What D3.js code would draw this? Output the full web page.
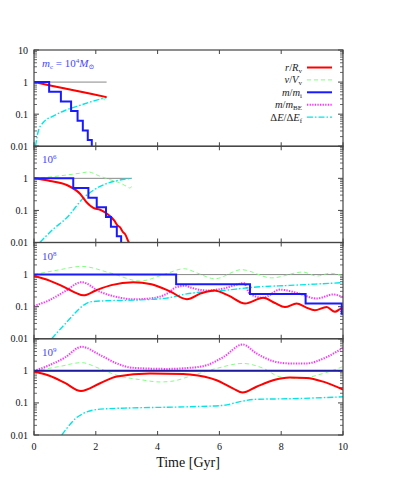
<!DOCTYPE html>
<html>
<head>
<meta charset="utf-8">
<script src="https://cdn.jsdelivr.net/npm/d3@7"></script>
<style>
  body { margin: 0; background: #fff; }
  text { font-family: "Liberation Serif", "DejaVu Serif", serif; }
</style>
</head>
<body>
<div id="chart"></div>
<script>
// data **********************************************************************
// each series is [time in Gyr, value]
var panelNames = ["10^4", "10^6", "10^8", "10^9"];
var xTicks = [0, 2, 4, 6, 8, 10];
var yTicks = [0.01, 0.1, 1, 10];
var yTickLabels = ["0.01", "0.1", "1", "10"];

// panel 1 : m_c = 10^4
var ref4 = [[0, 1], [2.35, 1]];
var r4 = [[0, 1], [0.6, 0.76], [1.2, 0.58], [1.8, 0.44], [2.35, 0.34]];
var v4 = [[0, 1], [0.6, 0.77], [1.2, 0.59], [1.8, 0.44], [2.1, 0.37], [2.35, 0.25]];
var m4 = [[0, 1], [0.49, 0.5], [0.87, 0.25], [1.2, 0.125], [1.41, 0.0625], [1.58, 0.031], [1.74, 0.0156], [1.87, 0.0078]];
var e4 = [[0.05, 0.01], [0.14, 0.03], [0.3, 0.055], [0.6, 0.085], [1.0, 0.13], [1.5, 0.19], [2.0, 0.27], [2.35, 0.33]];

// panel 2 : 10^6
var ref6 = [[0, 1], [3.16, 1]];
var r6 = [[0, 1], [0.52, 0.83], [1.06, 0.62], [1.49, 0.33], [1.7, 0.18], [1.92, 0.12], [2.14, 0.105], [2.35, 0.08],
          [2.6, 0.048], [2.7, 0.034], [2.78, 0.03], [2.88, 0.021], [2.95, 0.018], [3.05, 0.011], [3.1, 0.009]];
var v6 = [[0, 1], [0.5, 1.1], [1.0, 1.25], [1.5, 1.45], [1.76, 1.58], [2.1, 1.2], [2.46, 0.91], [2.78, 0.72],
          [3.0, 0.56], [3.1, 0.5], [3.16, 0.55]];
var m6 = [[0, 1], [1.27, 0.5], [1.76, 0.25], [2.03, 0.125], [2.33, 0.0625], [2.49, 0.031], [2.68, 0.0156], [2.82, 0.0078]];
var e6 = [[0.19, 0.01], [0.6, 0.025], [1.06, 0.059], [1.6, 0.245], [2.14, 0.56], [2.68, 0.85], [3.16, 1.0]];

// panel 3 : 10^8
var ref8 = [[0, 1], [10, 1]];
var r8 = [[0, 0.9], [0.5, 0.65], [1.0, 0.4], [1.35, 0.27], [1.6, 0.225], [2.0, 0.32], [2.5, 0.47], [3.21, 0.58],
          [3.8, 0.5], [4.4, 0.3], [4.95, 0.17], [5.4, 0.26], [5.83, 0.32], [6.3, 0.22], [6.83, 0.125], [7.42, 0.19],
          [7.8, 0.13], [8.12, 0.097], [8.5, 0.125], [8.8, 0.095], [9.09, 0.077], [9.47, 0.097], [9.74, 0.069],
          [9.96, 0.088], [10, 0.085]];
var v8 = [[0, 1], [0.8, 1.4], [1.54, 1.8], [2.5, 1.1], [3.43, 0.63], [4.2, 1.0], [4.86, 1.52], [5.3, 1.1],
          [5.85, 0.74], [6.72, 1.42], [7.69, 0.79], [8.7, 1.2], [9.15, 0.9], [9.58, 1.1], [10, 0.9]];
var m8 = [[0, 1], [4.6, 0.5], [6.99, 0.25], [8.79, 0.125], [9.96, 0.06], [10, 0.06]];
var b8 = [[0, 0.105], [0.5, 0.16], [1.0, 0.3], [1.54, 0.58], [2.14, 0.29], [2.68, 0.2], [3.21, 0.17], [3.75, 0.18],
          [4.29, 0.25], [4.62, 0.41], [4.89, 0.45], [5.05, 0.4], [5.59, 0.32], [6.13, 0.37], [6.67, 0.52],
          [6.78, 0.55], [6.99, 0.25], [7.42, 0.19], [7.96, 0.34], [8.5, 0.27], [9.15, 0.18], [9.69, 0.24], [10, 0.2]];
var e8 = [[0.57, 0.01], [1.06, 0.033], [1.6, 0.11], [1.81, 0.14], [2.14, 0.15], [3.21, 0.16], [4.29, 0.185],
          [4.94, 0.25], [6.13, 0.32], [7.2, 0.41], [8.28, 0.46], [10, 0.56]];

// panel 4 : 10^9
var ref9 = [[0, 1], [10, 1]];
var r9 = [[0, 0.95], [0.5, 0.7], [1.0, 0.42], [1.52, 0.235], [2.14, 0.41], [2.68, 0.67], [3.75, 0.83], [4.83, 0.8],
          [5.05, 0.77], [5.91, 0.51], [6.45, 0.28], [6.75, 0.21], [7.2, 0.32], [7.74, 0.51], [8.28, 0.62],
          [8.82, 0.6], [9.36, 0.46], [10, 0.26]];
var v9 = [[0, 1], [0.8, 1.35], [1.54, 1.8], [2.1, 1.2], [2.68, 0.73], [3.5, 0.52], [4.08, 0.45], [4.5, 0.48],
          [5.05, 0.68], [5.91, 1.19], [6.75, 1.7], [7.42, 1.2], [7.96, 0.65], [8.6, 0.58], [9.36, 0.83], [10, 1.35]];
var m9 = [[0, 1], [10, 1]];
var b9 = [[0, 1], [0.5, 1.5], [1.0, 2.6], [1.54, 5.6], [2.14, 3.1], [2.68, 1.7], [3.21, 1.24], [4.29, 1.15],
          [5.05, 1.24], [5.59, 1.5], [6.13, 2.7], [6.75, 6.6], [7.2, 3.5], [7.74, 2.0], [8.28, 1.7], [8.82, 1.7],
          [9.36, 2.4], [10, 5.2]];
var e9 = [[0.9, 0.01], [1.06, 0.016], [1.38, 0.035], [1.6, 0.047], [2.14, 0.064], [3.21, 0.07], [5.05, 0.076],
          [6.13, 0.084], [6.67, 0.11], [7.2, 0.13], [8.28, 0.135], [10, 0.155]];

var panels = [
  { ref: ref4, r: r4, v: v4, m: m4, b: null, e: e4 },
  { ref: ref6, r: r6, v: v6, m: m6, b: null, e: e6 },
  { ref: ref8, r: r8, v: v8, m: m8, b: b8, e: e8 },
  { ref: ref9, r: r9, v: v9, m: m9, b: b9, e: e9, mColor: "#1c1c9c" }
];

// layout ******************************************************************
var width = 405, height = 486;
var left = 34, right = 343, top0 = 50, panelH = 96.25;
var frameColor = "#444";

var styles = {
  ref: { color: "#888", w: 1, dash: null },
  v:   { color: "#80ff80", w: 1, dash: "4,3" },
  b:   { color: "#ff33ff", w: 2, dash: "1.3,1.3" },
  e:   { color: "#00e5e5", w: 1.4, dash: "6,2,1.5,2" },
  r:   { color: "#ff0000", w: 2, dash: null },
  m:   { color: "#1a1aff", w: 2, dash: null }
};
var drawOrder = ["ref", "v", "b", "e", "r", "m"];

var svg = d3.select("#chart").append("svg")
  .attr("width", width).attr("height", height);

var x = d3.scaleLinear().domain([0, 10]).range([left, right]);

panels.forEach(function(p, i) {
  var top = top0 + i * panelH;
  var y = d3.scaleLog().domain([0.01, 10]).range([top + panelH, top]);
  var g = svg.append("g");

  svg.append("clipPath").attr("id", "clip" + i)
    .append("rect").attr("x", left).attr("y", top).attr("width", right - left).attr("height", panelH);

  // ticks
  var minor = [];
  for (var d = 0.01; d < 10; d *= 10) {
    for (var k = 2; k <= 9; k++) minor.push(d * k);
  }
  minor.forEach(function(v) {
    g.append("line").attr("x1", left).attr("x2", left + 3).attr("y1", y(v)).attr("y2", y(v))
      .attr("stroke", frameColor).attr("stroke-width", 0.8);
    g.append("line").attr("x1", right).attr("x2", right - 3).attr("y1", y(v)).attr("y2", y(v))
      .attr("stroke", frameColor).attr("stroke-width", 0.8);
  });
  yTicks.forEach(function(v) {
    g.append("line").attr("x1", left).attr("x2", left + 5).attr("y1", y(v)).attr("y2", y(v))
      .attr("stroke", frameColor);
    g.append("line").attr("x1", right).attr("x2", right - 5).attr("y1", y(v)).attr("y2", y(v))
      .attr("stroke", frameColor);
  });
  xTicks.forEach(function(t) {
    g.append("line").attr("x1", x(t)).attr("x2", x(t)).attr("y1", top).attr("y2", top + 4)
      .attr("stroke", frameColor);
    g.append("line").attr("x1", x(t)).attr("x2", x(t)).attr("y1", top + panelH).attr("y2", top + panelH - 4)
      .attr("stroke", frameColor);
  });

  // y tick labels
  yTicks.forEach(function(v, j) {
    if (i > 0 && v === 10) return;
    g.append("text").attr("x", 28).attr("y", y(v) + 3.5)
      .attr("text-anchor", "end").attr("font-size", 10).attr("fill", "#111")
      .text(yTickLabels[j]);
  });

  // curves
  var lines = g.append("g").attr("clip-path", "url(#clip" + i + ")");
  drawOrder.forEach(function(key) {
    var data = p[key];
    if (!data) return;
    var s = styles[key];
    var line = d3.line()
      .x(function(d) { return x(d[0]); })
      .y(function(d) { return y(d[1]); })
      .curve(key === "m" ? d3.curveStepAfter : (key === "ref" ? d3.curveLinear : d3.curveMonotoneX));
    lines.append("path").datum(data)
      .attr("d", line)
      .attr("fill", "none")
      .attr("stroke", (key === "m" && p.mColor) ? p.mColor : s.color)
      .attr("stroke-width", s.w)
      .attr("stroke-dasharray", s.dash);
  });

  // frame
  g.append("rect").attr("x", left).attr("y", top).attr("width", right - left).attr("height", panelH)
    .attr("fill", "none").attr("stroke", frameColor).attr("stroke-width", 1.2);

  // panel label
  var lab = g.append("text").attr("x", 42).attr("y", top + 17).attr("font-size", 11).attr("fill", "#4646ff");
  if (i === 0) {
    lab.append("tspan").attr("font-style", "italic").text("m");
    lab.append("tspan").attr("font-size", 7).attr("dy", 2).text("c");
    lab.append("tspan").attr("dy", -2).text(" = 10");
    lab.append("tspan").attr("font-size", 7).attr("dy", -4).text("4");
    lab.append("tspan").attr("dy", 4).attr("font-style", "italic").text("M");
    lab.append("tspan").attr("font-size", 7).attr("dy", 2).text("\u2299");
  } else {
    var parts = panelNames[i].split("^");
    lab.append("tspan").text(parts[0]);
    lab.append("tspan").attr("font-size", 7).attr("dy", -4).text(parts[1]);
  }
});

// x tick labels and title
xTicks.forEach(function(t) {
  svg.append("text").attr("x", x(t)).attr("y", 450)
    .attr("text-anchor", "middle").attr("font-size", 10).attr("fill", "#111").text(t);
});
svg.append("text").attr("x", 188).attr("y", 467)
  .attr("text-anchor", "middle").attr("font-size", 14).attr("fill", "#111").text("Time [Gyr]");

// legend ******************************************************************
var legendRows = [
  { key: "r", parts: [["r", 1], ["/", 0], ["R", 1], ["v", 2]] },
  { key: "v", parts: [["v", 1], ["/", 0], ["V", 1], ["v", 2]] },
  { key: "m", parts: [["m", 1], ["/", 0], ["m", 1], ["i", 2]] },
  { key: "b", parts: [["m", 1], ["/", 0], ["m", 1], ["BE", 3]] },
  { key: "e", parts: [["\u0394", 0], ["E", 1], ["/", 0], ["\u0394", 0], ["E", 1], ["f", 2]] }
];
var legend = svg.append("g");
legendRows.forEach(function(row, j) {
  var ly = 67.5 + j * 12.4;
  var t = legend.append("text").attr("x", 302).attr("y", ly + 3.5)
    .attr("text-anchor", "end").attr("font-size", 10.5).attr("fill", "#222");
  var sub = false;
  row.parts.forEach(function(pt) {
    var ts = t.append("tspan").text(pt[0]);
    if (pt[1] === 1) ts.attr("font-style", "italic");
    if (pt[1] >= 2) { ts.attr("font-size", 7).attr("dy", 2); sub = true; }
    else if (sub) { ts.attr("dy", -2); sub = false; }
  });
  var s = styles[row.key];
  legend.append("line").attr("x1", 307).attr("x2", 332).attr("y1", ly).attr("y2", ly)
    .attr("stroke", s.color).attr("stroke-width", s.w).attr("stroke-dasharray", s.dash);
});
</script>
</body>
</html>
